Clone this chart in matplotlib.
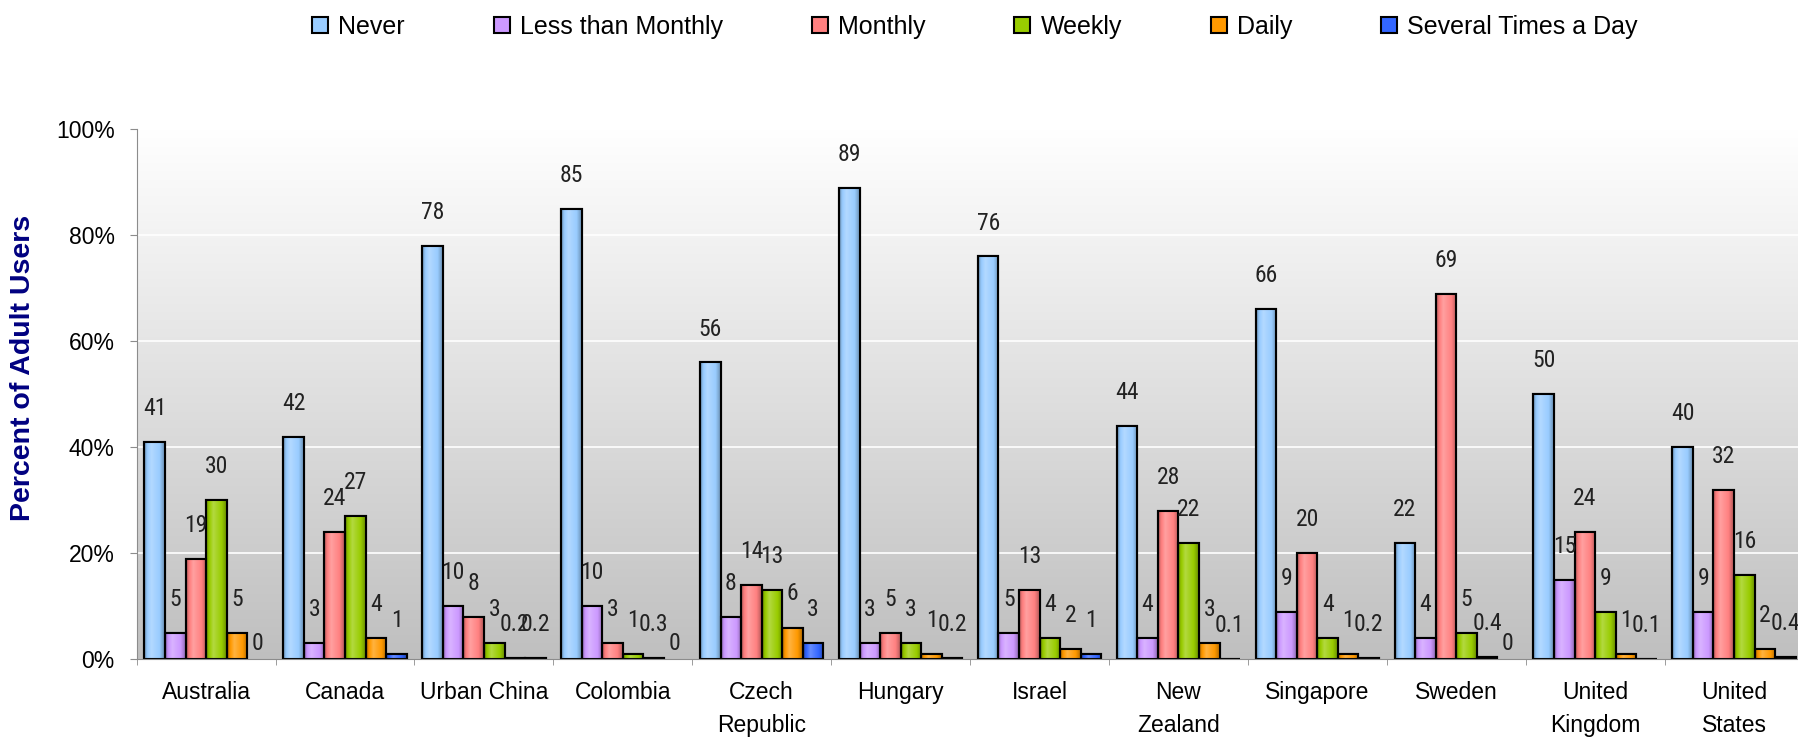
import numpy as np
import matplotlib
matplotlib.use("Agg")
import matplotlib.pyplot as plt
from matplotlib import font_manager as fm
from matplotlib.colors import to_rgb
from matplotlib.patches import Patch

# data (percent of adult users)
countries = ["Australia", "Canada", "Urban China", "Colombia", "Czech\nRepublic", "Hungary",
             "Israel", "New\nZealand", "Singapore", "Sweden", "United\nKingdom", "United\nStates"]
series_names = ["Never", "Less than Monthly", "Monthly", "Weekly", "Daily", "Several Times a Day"]

never = [41, 42, 78, 85, 56, 89, 76, 44, 66, 22, 50, 40]
less_monthly = [5, 3, 10, 10, 8, 3, 5, 4, 9, 4, 15, 9]
monthly = [19, 24, 8, 3, 14, 5, 13, 28, 20, 69, 24, 32]
weekly = [30, 27, 3, 1, 13, 3, 4, 22, 4, 5, 9, 16]
daily = [5, 4, 0.2, 0.3, 6, 1, 2, 3, 1, 0.4, 1, 2]
several = [0, 1, 0.2, 0, 3, 0.2, 1, 0.1, 0.2, 0, 0.1, 0.4]

colors = ["#99CCFF", "#CC99FF", "#FF8080", "#99CC00", "#FF9900", "#3366FF"]
yticks = [0, 20, 40, 60, 80, 100]

plt.rcParams["font.family"] = ["Liberation Sans", "DejaVu Sans"]


def pick_narrow_font():
    """data labels use a narrow face; take whatever condensed sans is installed"""
    names = {f.name for f in fm.fontManager.ttflist}
    for fam in ["Liberation Sans Narrow", "Arial Narrow", "Roboto Condensed", "Open Sans Condensed"]:
        if fam in names:
            return fam, "normal", 17
    for f in fm.fontManager.ttflist:
        if f.name == "DejaVu Sans" and "condensed" in str(f.stretch):
            return "DejaVu Sans", "condensed", 15.5
    return "Liberation Sans", "normal", 14.5


label_family, label_stretch, label_size = pick_narrow_font()


def bar_gradient(color, n=64):
    """horizontal shading so the bars look a bit rounded"""
    c = np.array(to_rgb(color))
    t = np.linspace(0, 1, n)
    k = np.interp(t, [0, 0.1, 0.35, 0.75, 1], [-0.45, -0.1, 0.25, 0.0, -0.3])
    out = np.empty((1, n, 3))
    for i, kk in enumerate(k):
        out[0, i] = c + (1 - c) * kk if kk > 0 else c * (1 + kk)
    return np.clip(out, 0, 1)


fig = plt.figure(figsize=(17.98, 7.38), dpi=100)
ax = fig.add_axes([136.7 / 1798, 1 - 659.3 / 738, 1666.8 / 1798, (659.3 - 129.3) / 738])

x = np.arange(len(countries))

# plot area background: white at top fading to grey
bg = np.linspace(0.75, 1.0, 256)[::-1].reshape(-1, 1)
bg = np.repeat(bg[:, :, None], 3, axis=2)
ax.imshow(bg, extent=(-0.5, len(countries) - 0.5, 0, 100), aspect="auto", zorder=0,
          origin="upper")
for yv in yticks[1:-1]:
    ax.axhline(yv, color="white", lw=1.2, zorder=1)

all_series = [never, less_monthly, monthly, weekly, daily, several]
w = 0.148
for i, (vals, col) in enumerate(zip(all_series, colors)):
    pos = x + (i - 2.5) * w
    bars = ax.bar(pos, vals, width=w, color=col, edgecolor="black", linewidth=1.5, zorder=3)
    grad = bar_gradient(col)
    for b in bars:
        if b.get_height() <= 0:
            b.set_linewidth(0)
            continue
        im = ax.imshow(grad, extent=(b.get_x(), b.get_x() + b.get_width(), 0, b.get_height()),
                       aspect="auto", zorder=3.5)
        im.set_clip_path(b)
        # redraw outline above the gradient
        ax.bar(b.get_x() + b.get_width() / 2, b.get_height(), width=b.get_width(),
               facecolor="none", edgecolor="black", linewidth=1.5, zorder=4)
    for px, v in zip(pos, vals):
        off = 27 if v > 0 else 9.5
        ax.annotate(f"{v:g}", (px, v), xytext=(0, off), textcoords="offset pixels",
                    ha="center", va="baseline", fontsize=label_size, family=label_family,
                    fontstretch=label_stretch, color="#222222", zorder=5)

ax.set_xlim(-0.5, len(countries) - 0.5)
ax.set_ylim(0, 100)

# axes styling
for s in ["top", "right"]:
    ax.spines[s].set_visible(False)
for s in ["left", "bottom"]:
    ax.spines[s].set_color("#8c8c8c")
    ax.spines[s].set_zorder(6)

ax.set_yticks(yticks)
ax.set_yticklabels([f"{v}%" for v in yticks], fontsize=16.5)
ax.tick_params(axis="y", length=4.8, color="#8c8c8c", pad=11)

ax.set_xticks(x)
ax.set_xticklabels(countries, fontsize=16.5, linespacing=1.55)
ax.set_xticks(np.arange(-0.5, len(countries), 1), minor=True)
ax.tick_params(axis="x", which="major", length=0, pad=15.5)
ax.tick_params(axis="x", which="minor", length=4.5, color="#8c8c8c")

fig.text(23 / 1798, 1 - 368 / 738, "Percent of Adult Users", rotation=90,
         ha="center", va="center", fontsize=20.5, fontweight="bold", color="#000080")

handles = [Patch(facecolor=c, edgecolor="black", linewidth=1.5) for c in colors]
fig.legend(handles, series_names, ncol=6, loc="center",
           bbox_to_anchor=(975 / 1798, 1 - 27 / 738), frameon=False, fontsize=18,
           handlelength=0.64, handleheight=0.64, handletextpad=0.4, columnspacing=3.56,
           borderaxespad=0)

fig.savefig("out.png", dpi=100)
